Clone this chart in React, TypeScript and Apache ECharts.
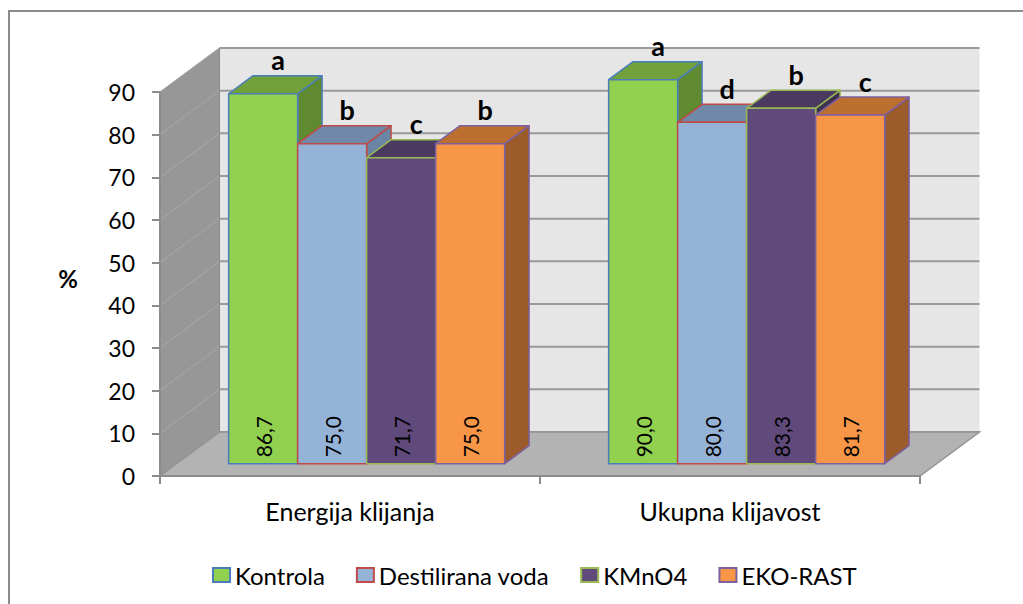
import React, { useEffect, useRef } from "react";
import * as echarts from "echarts";

// ---- data ----
const categories = ["Energija klijanja", "Ukupna klijavost"];
const seriesNames = ["Kontrola", "Destilirana voda", "KMnO4", "EKO-RAST"];
const kontrola = [86.7, 90.0];
const destiliranaVoda = [75.0, 80.0];
const kmno4 = [71.7, 83.3];
const ekoRast = [75.0, 81.7];
const kontrolaLetters = ["a", "a"];
const destiliranaLetters = ["b", "d"];
const kmno4Letters = ["c", "b"];
const ekoRastLetters = ["b", "c"];
const yMin = 0;
const yMax = 90;
const yStep = 10;
const yAxisTitle = "%";

const allValues = [kontrola, destiliranaVoda, kmno4, ekoRast];
const allLetters = [kontrolaLetters, destiliranaLetters, kmno4Letters, ekoRastLetters];

// ---- styles ----
const palette = [
  { front: "#92D050", top: "#72a03a", side: "#5f8a30", border: "#4a7ebb" },
  { front: "#95B3D7", top: "#7189a8", side: "#6a84a3", border: "#be4b48" },
  { front: "#604A7B", top: "#4a3a5f", side: "#3f3150", border: "#98b954" },
  { front: "#F79646", top: "#bd6f30", side: "#9b5b2a", border: "#7d60a0" },
];
const FONT = "Lato, 'Open Sans', sans-serif";
const DEPTH_X = 59.5;
const DEPTH_Y = -44;
const BAR_FRONT = 0.28; // fraction of depth where bars' front face sits
const BAR_DEPTH = 0.41; // fraction of depth the bars occupy
const BAR_W = 0.1816; // fraction of the band per bar

function App() {
  const ref = useRef<HTMLDivElement>(null);
  useEffect(() => {
    if (!ref.current) return;
    const chart = echarts.init(ref.current, null, { renderer: "svg" });

    const ticks: number[] = [];
    for (let v = yMin; v <= yMax + 1e-9; v += yStep) ticks.push(v);

    const wallSeries: any = {
      type: "custom",
      name: "__walls",
      silent: true,
      clip: false,
      z: 1,
      data: [[0, 0]],
      renderItem: (params: any, api: any) => {
        const cs = params.coordSys;
        const x0 = cs.x;
        const x1 = cs.x + cs.width;
        const y0 = api.coord([0, yMin])[1];
        const yT = api.coord([0, yMax])[1];
        const dx = DEPTH_X;
        const dy = DEPTH_Y;
        const children: any[] = [];
        children.push({
          type: "rect",
          shape: { x: x0 + dx, y: yT + dy, width: x1 - x0, height: y0 - yT },
          style: { fill: "#e6e6e6", stroke: null },
        });
        children.push({
          type: "polygon",
          shape: { points: [[x0, y0], [x0, yT], [x0 + dx, yT + dy], [x0 + dx, y0 + dy]] },
          style: { fill: "#979797", stroke: "#8a8a8a", lineWidth: 1 },
        });
        ticks.forEach((v) => {
          const y = api.coord([0, v])[1];
          children.push({
            type: "line",
            shape: { x1: x0, y1: y, x2: x0 + dx, y2: y + dy },
            style: { stroke: "#aaaaaa", lineWidth: 1 },
          });
          children.push({
            type: "line",
            shape: { x1: x0 + dx, y1: y + dy, x2: x1 + dx, y2: y + dy },
            style: { stroke: "#9a9a9a", lineWidth: 2 },
          });
        });
        children.push({
          type: "polygon",
          shape: { points: [[x0, y0], [x1, y0], [x1 + dx, y0 + dy], [x0 + dx, y0 + dy]] },
          style: { fill: "#b3b3b3", stroke: "#939393", lineWidth: 1.5 },
        });
        return { type: "group", children };
      },
    };

    const makeBarSeries = (i: number): any => ({
      type: "custom",
      name: seriesNames[i],
      clip: false,
      z: 3,
      itemStyle: { color: palette[i].front, borderColor: palette[i].border, borderWidth: 2 },
      encode: { x: 0, y: 1 },
      data: categories.map((_, j) => [j, allValues[i][j]]),
      renderItem: (params: any, api: any) => {
        const cat = api.value(0);
        const v = api.value(1);
        const base = api.coord([cat, 0]);
        const top = api.coord([cat, v]);
        const band = api.size([1, 0])[0];
        const bw = band * BAR_W;
        const fdx = DEPTH_X * BAR_FRONT;
        const fdy = DEPTH_Y * BAR_FRONT;
        const bdx = DEPTH_X * BAR_DEPTH;
        const bdy = DEPTH_Y * BAR_DEPTH;
        const L = base[0] - 2 * bw + i * bw + fdx;
        const yb = base[1] + fdy;
        const yt = top[1] + fdy;
        const c = palette[i];
        const stroke = { stroke: c.border, lineWidth: 1.5, lineJoin: "round" };
        const label = v.toFixed(1).replace(".", ",");
        const letter = allLetters[i][params.dataIndex];
        return {
          type: "group",
          children: [
            {
              type: "polygon",
              shape: { points: [[L + bw, yt], [L + bw + bdx, yt + bdy], [L + bw + bdx, yb + bdy], [L + bw, yb]] },
              style: { fill: c.side, ...stroke },
            },
            {
              type: "polygon",
              shape: { points: [[L, yt], [L + bw, yt], [L + bw + bdx, yt + bdy], [L + bdx, yt + bdy]] },
              style: { fill: c.top, ...stroke },
            },
            {
              type: "rect",
              shape: { x: L, y: yt, width: bw, height: yb - yt },
              style: { fill: c.front, ...stroke },
            },
            {
              type: "text",
              x: L + bw / 2,
              y: yb - 27,
              rotation: Math.PI / 2,
              style: {
                text: label,
                fill: "#000",
                fontSize: 21,
                fontFamily: FONT,
                align: "center",
                verticalAlign: "middle",
              },
            },
            {
              type: "text",
              x: L + bw / 2 + 15,
              y: yt + bdy - 16,
              style: {
                text: letter,
                fill: "#000",
                fontSize: 27,
                fontWeight: "bold",
                fontFamily: FONT,
                align: "center",
                verticalAlign: "middle",
              },
            },
          ],
        };
      },
    });

    const option: any = {
      animation: false,
      grid: { left: 160, right: 103, top: 92, bottom: 128, containLabel: false },
      xAxis: {
        type: "category",
        data: categories,
        z: 10,
        axisLine: { show: true, lineStyle: { color: "#8c8c8c", width: 2 } },
        axisTick: { show: true, length: 8, lineStyle: { color: "#8c8c8c", width: 2 } },
        axisLabel: { color: "#000", fontSize: 25, fontFamily: FONT, margin: 22 },
        splitLine: { show: false },
      },
      yAxis: {
        type: "value",
        min: yMin,
        max: yMax,
        interval: yStep,
        z: 10,
        axisLine: { show: true, lineStyle: { color: "#8c8c8c", width: 2 } },
        axisTick: { show: true, length: 8, lineStyle: { color: "#8c8c8c", width: 2 } },
        axisLabel: { color: "#000", fontSize: 23, fontFamily: FONT, margin: 25 },
        splitLine: { show: false },
      },
      legend: {
        data: seriesNames,
        left: 207,
        top: 558,
        icon: "rect",
        itemWidth: 17,
        itemHeight: 14,
        itemGap: 31,
        textStyle: { color: "#000", fontSize: 24, fontFamily: FONT },
      },
      graphic: [
        {
          type: "rect",
          silent: true,
          shape: { x: 9, y: 11, width: 1300, height: 900 },
          style: { fill: "none", stroke: "#8c8c8c", lineWidth: 2 },
        },
        {
          type: "text",
          x: 68,
          y: 278,
          style: {
            text: yAxisTitle,
            fill: "#000",
            fontSize: 24,
            fontWeight: "bold",
            fontFamily: FONT,
            align: "center",
            verticalAlign: "middle",
          },
        },
      ],
      series: [wallSeries, ...seriesNames.map((_, i) => makeBarSeries(i))],
    };
    chart.setOption(option);
    return () => chart.dispose();
  }, []);

  return (
    <div
      ref={ref}
      style={{ position: "absolute", left: 0, top: 0, width: 1023, height: 604, background: "#fff" }}
    />
  );
}

export default App;
